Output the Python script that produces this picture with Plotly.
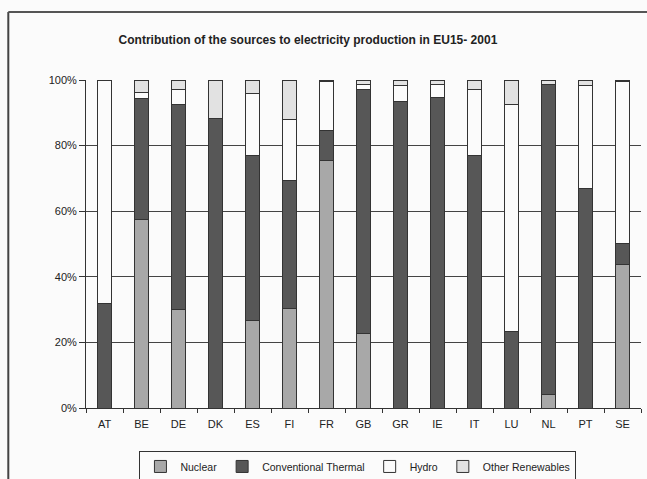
import plotly.graph_objects as go

countries = ["AT", "BE", "DE", "DK", "ES", "FI", "FR", "GB", "GR", "IE", "IT", "LU", "NL", "PT", "SE"]
nuclear = [0, 57.6, 30.1, 0, 26.6, 30.4, 75.6, 22.6, 0, 0, 0, 0, 4.0, 0, 43.9]
thermal = [31.9, 36.8, 62.5, 88.3, 50.5, 38.9, 8.9, 74.4, 93.3, 94.7, 76.9, 23.3, 94.5, 67.0, 6.3]
hydro = [68.1, 1.9, 4.6, 0, 18.8, 18.7, 15.0, 1.5, 4.9, 3.8, 20.3, 69.3, 0.2, 31.2, 49.3]
other = [0, 3.7, 2.8, 11.7, 4.1, 12.0, 0.5, 1.5, 1.8, 1.5, 2.8, 7.4, 1.3, 1.8, 0.5]

series = [
    ("Nuclear", nuclear, "#a8a8a8"),
    ("Conventional Thermal", thermal, "#575757"),
    ("Hydro", hydro, "#fbfbfb"),
    ("Other Renewables", other, "#e2e2e2"),
]

fig = go.Figure()
for name, vals, col in series:
    fig.add_trace(go.Bar(
        x=countries, y=[v / 100 for v in vals], name=name,
        marker=dict(color=col, line=dict(color="#333333", width=1)),
    ))

fig.update_layout(
    barmode="stack",
    bargap=0.6,
    width=647, height=479,
    margin=dict(l=86, r=6, t=80, b=71, autoexpand=False),
    paper_bgcolor="#fbfbfb",
    plot_bgcolor="#fbfbfb",
    font=dict(family="Liberation Sans, Arial, sans-serif", size=11, color="#222222"),
    title=dict(
        text="<b>Contribution of the sources to electricity production in EU15- 2001</b>",
        x=0.476, xanchor="center", y=0.916, yanchor="middle",
        font=dict(family="Liberation Sans Narrow, Arial Narrow, Liberation Sans, sans-serif", size=12, color="#222222"),
    ),
    legend=dict(
        orientation="h", traceorder="normal",
        x=0.49, xanchor="center", y=-0.131, yanchor="top",
        bordercolor="#333333", borderwidth=1, bgcolor="#fbfbfb",
        font=dict(size=10.5, color="#222222"), itemwidth=30, tracegroupgap=0,
    ),
    showlegend=True,
)
fig.update_xaxes(
    showline=True, linecolor="#333333", linewidth=1,
    ticks="outside", tickson="boundaries", ticklen=4, tickcolor="#333333",
    ticklabelstandoff=6, tickfont=dict(color="#222222", size=11),
    showgrid=False,
)
fig.update_yaxes(
    range=[0, 1], tickformat=".0%", tickvals=[0, 0.2, 0.4, 0.6, 0.8, 1.0],
    showline=True, linecolor="#333333", linewidth=1,
    ticks="outside", ticklen=6, tickcolor="#333333",
    tickfont=dict(color="#222222", size=11),
    showgrid=True, gridcolor="#444444", gridwidth=1,
    zeroline=False,
)
# chart-area frame (left and top edges visible in the reference)
fig.add_shape(type="line", xref="paper", yref="paper",
              x0=-0.14, x1=-0.14, y0=1.207, y1=-0.3,
              line=dict(color="#444444", width=2))
fig.add_shape(type="line", xref="paper", yref="paper",
              x0=-0.14, x1=1.02, y0=1.207, y1=1.207,
              line=dict(color="#555555", width=2))

fig.write_html(
    "out.html",
    config={"displayModeBar": False},
    post_script="document.body.style.margin='0';document.body.style.overflow='hidden';",
)
